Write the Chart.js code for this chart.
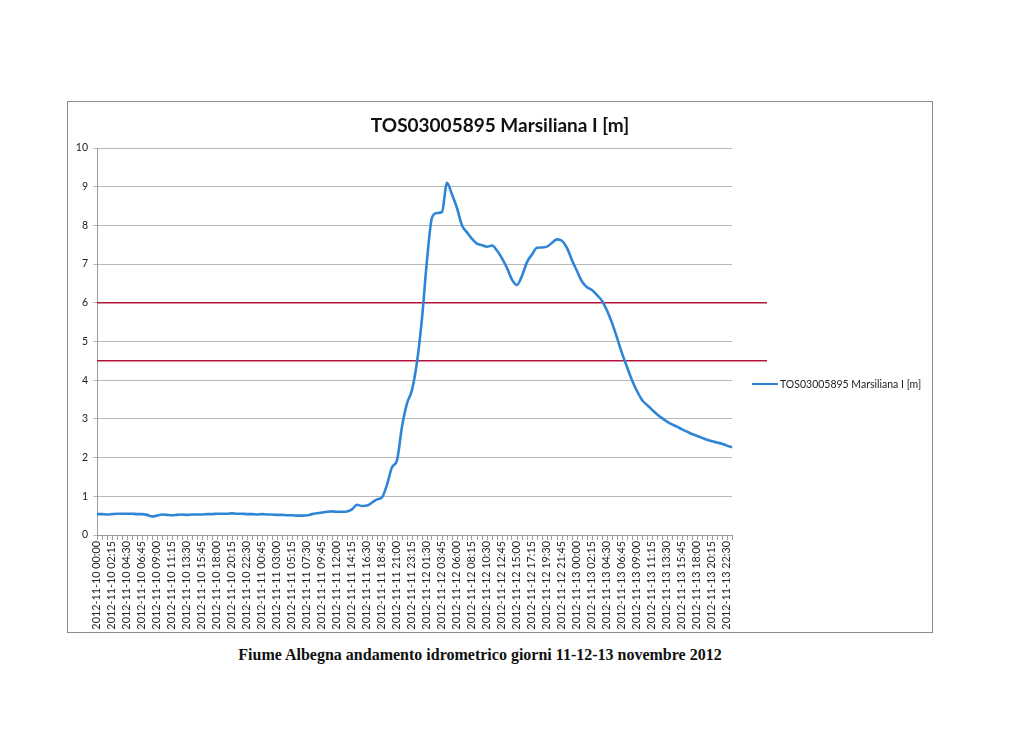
<!DOCTYPE html>
<html>
<head>
<meta charset="utf-8">
<script src="https://cdn.jsdelivr.net/npm/chart.js@4.4.0/dist/chart.umd.min.js"></script>
<style>
  body { margin: 0; background: #fff; width: 1024px; height: 744px; position: relative; overflow: hidden; }
  #frame { position: absolute; left: 67px; top: 101px; width: 866px; height: 532px; border: 1px solid #8c8c8c; box-sizing: border-box; }
  #chart { position: absolute; left: 67px; top: 101px; }
  #legend { position: absolute; left: 752px; top: 377px; font: 10.5px Lato, sans-serif; color: #222; white-space: nowrap; display: flex; align-items: center; height: 14px; }
  #legend .swatch { display: inline-block; width: 26px; height: 2px; background: #2f86d6; margin-right: 2px; }
  #caption { position: absolute; left: 0; width: 960px; top: 646px; text-align: center; font: bold 16px "Liberation Serif", serif; color: #111; }
</style>
</head>
<body>
<div id="frame"></div>
<canvas id="chart" width="866" height="532"></canvas>
<div id="legend"><span class="swatch"></span>TOS03005895 Marsiliana I [m]</div>
<div id="caption">Fiume Albegna andamento idrometrico giorni 11-12-13 novembre 2012</div>

<script>
// one reading every 45 minutes, from 2012-11-10 00:00
const startDay = 10
const stepMinutes = 45

// livello idrometrico [m]
const livello = [
  0.54, 0.54, 0.53, 0.54, 0.55, 0.55, 0.55, 0.55, 0.54, 0.54,
  0.52, 0.48, 0.50, 0.53, 0.52, 0.51, 0.52, 0.53, 0.52, 0.53,
  0.53, 0.53, 0.54, 0.54, 0.55, 0.55, 0.55, 0.56, 0.55, 0.55,
  0.54, 0.54, 0.53, 0.54, 0.53, 0.53, 0.52, 0.52, 0.51, 0.51,
  0.50, 0.50, 0.51, 0.54, 0.56, 0.58, 0.60, 0.61, 0.60, 0.60,
  0.61, 0.66, 0.78, 0.75, 0.76, 0.84, 0.92, 0.97, 1.30, 1.75,
  1.93, 2.80, 3.40, 3.75, 4.47, 5.60, 7.10, 8.20, 8.32, 8.35,
  9.10, 8.80, 8.45, 8.00, 7.82, 7.65, 7.53, 7.49, 7.45, 7.48,
  7.35, 7.15, 6.90, 6.60, 6.46, 6.70, 7.05, 7.25, 7.42, 7.43,
  7.45, 7.55, 7.64, 7.60, 7.42, 7.10, 6.82, 6.55, 6.40, 6.33,
  6.20, 6.05, 5.80, 5.48, 5.10, 4.70, 4.34, 4.00, 3.72, 3.49,
  3.36, 3.24, 3.12, 3.02, 2.93, 2.86, 2.80, 2.73, 2.67, 2.61,
  2.56, 2.51, 2.46, 2.42, 2.39, 2.36, 2.31, 2.27
]

// soglie drawn in red across the plot
const soglie = [6, 4.5]

const yTicks = [0, 1, 2, 3, 4, 5, 6, 7, 8, 9, 10]

const pad = n => (n < 10 ? '0' : '') + n
const categories = livello.map((v, i) => {
  const m = i * stepMinutes
  const day = startDay + Math.floor(m / 1440)
  const hh = Math.floor((m % 1440) / 60)
  const mm = m % 60
  return '2012-11-' + pad(day) + ' ' + pad(hh) + ':' + pad(mm)
})

const soglieLines = {
  id: 'soglieLines',
  beforeDatasetsDraw(chart) {
    const { ctx, chartArea, scales } = chart
    ctx.save()
    ctx.strokeStyle = '#b3153c'
    ctx.lineWidth = 1.5
    soglie.forEach(v => {
      const py = scales.y.getPixelForValue(v)
      ctx.beginPath()
      ctx.moveTo(chartArea.left, py)
      ctx.lineTo(chartArea.right + 35, py)
      ctx.stroke()
    })
    ctx.restore()
  }
}

const ctx = document.getElementById('chart').getContext('2d')
const chart = new Chart(ctx, {
  type: 'line',
  data: {
    labels: categories,
    datasets: [{
      label: 'TOS03005895 Marsiliana I [m]',
      data: livello,
      borderColor: '#2f86d6',
      borderWidth: 2.6,
      pointRadius: 0,
      cubicInterpolationMode: 'monotone',
      fill: false
    }]
  },
  options: {
    responsive: false,
    animation: false,
    layout: { padding: 0 },
    plugins: {
      legend: { display: false },
      tooltip: { enabled: false },
      title: {
        display: true,
        text: 'TOS03005895 Marsiliana I [m]',
        color: '#111',
        font: { family: 'Lato', size: 19, weight: 'bold' },
        padding: { top: 13.6, bottom: 10.6 }
      }
    },
    scales: {
      x: {
        type: 'category',
        afterFit: s => { s.height = 98 },
        grid: { drawOnChartArea: false, drawTicks: true, tickLength: 5, color: '#a0a0a0' },
        border: { display: true, color: '#9a9a9a' },
        ticks: {
          autoSkip: false,
          minRotation: 90,
          maxRotation: 90,
          padding: 1,
          color: '#222',
          font: { family: 'Lato', size: 10.8 },
          callback: function (val, i) { return i % 3 === 0 ? categories[i] : '' }
        }
      },
      y: {
        min: yTicks[0],
        max: yTicks[yTicks.length - 1],
        afterFit: s => { s.width = 30 },
        afterBuildTicks: s => { s.ticks = yTicks.map(v => ({ value: v })) },
        grid: { color: '#b8b8b8', tickLength: 4 },
        border: { display: true, color: '#9a9a9a' },
        ticks: {
          padding: 5,
          color: '#222',
          font: { family: 'Lato', size: 10.5 }
        }
      },
      // empty space on the right where the legend sits
      side: {
        axis: 'y',
        position: 'right',
        afterFit: s => { s.width = 201 },
        grid: { display: false },
        border: { display: false },
        ticks: { display: false }
      }
    }
  },
  plugins: [soglieLines]
})
</script>
</body>
</html>
